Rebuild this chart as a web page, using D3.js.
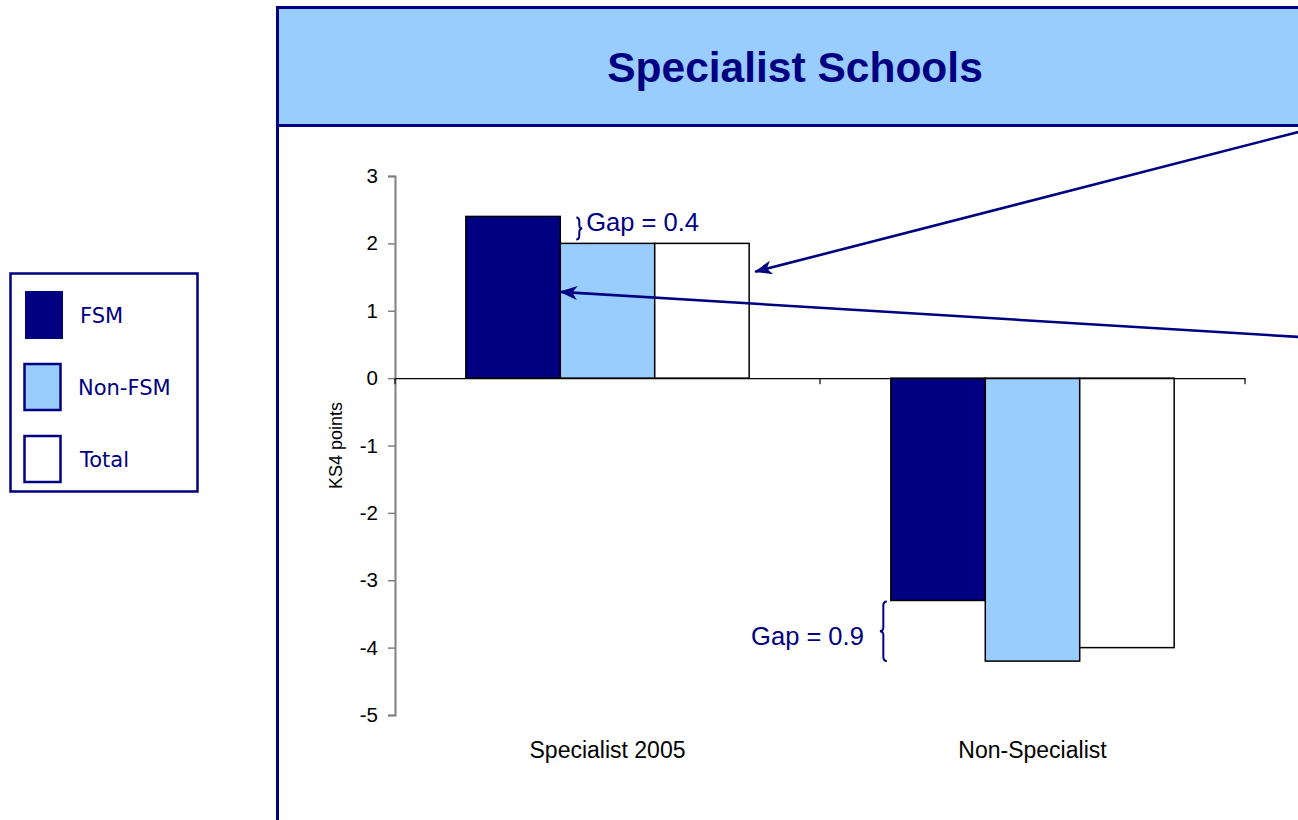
<!DOCTYPE html>
<html>
<head>
<meta charset="utf-8">
<script src="https://cdn.jsdelivr.net/npm/d3@7"></script>
<style>
  html, body { margin: 0; padding: 0; background: #ffffff; }
  svg { display: block; }
</style>
</head>
<body>
<svg id="chart" width="1298" height="820"></svg>
<script>
// ---- data ----
const title = "Specialist Schools";
const categories = ["Specialist 2005", "Non-Specialist"];
const seriesNames = ["FSM", "Non-FSM", "Total"];
const fsmValues = [2.4, -3.3];
const nonFsmValues = [2.0, -4.2];
const totalValues = [2.0, -4.0];
const yTicks = [3, 2, 1, 0, -1, -2, -3, -4, -5];
const yLabel = "KS4 points";
const gapLabels = ["Gap = 0.4", "Gap = 0.9"];
// arrow annotations: start value (at right edge) and target value on a bar
const arrowStartValues = [3.66, 0.61];
const arrowTargetValues = [1.58, 1.28];
const arrowTargetSeries = ["Total", "FSM"];

// ---- styles ----
const NAVY = "#000080";
const LIGHT = "#99CCFF";
const FONT = "Liberation Sans, Arial, sans-serif";
const seriesFill = { "FSM": NAVY, "Non-FSM": LIGHT, "Total": "#ffffff" };

const svg = d3.select("#chart");
const W = 1298, H = 820;

// ---- arrow marker ----
const defs = svg.append("defs");
defs.append("marker")
  .attr("id", "arrow")
  .attr("viewBox", "0 0 18 14")
  .attr("refX", 17).attr("refY", 7)
  .attr("markerWidth", 18).attr("markerHeight", 14)
  .attr("markerUnits", "userSpaceOnUse")
  .attr("orient", "auto")
  .append("path")
  .attr("d", "M0,0 L18,7 L0,14 L5,7 Z")
  .attr("fill", NAVY);

// ---- frame / title box ----
svg.append("rect")
  .attr("x", 277.5).attr("y", 7.5)
  .attr("width", 1040).attr("height", 118)
  .attr("fill", LIGHT)
  .attr("stroke", NAVY).attr("stroke-width", 3);
svg.append("line")
  .attr("x1", 277.5).attr("x2", 277.5)
  .attr("y1", 125).attr("y2", H + 5)
  .attr("stroke", NAVY).attr("stroke-width", 3);
svg.append("text")
  .attr("x", 795).attr("y", 82)
  .attr("text-anchor", "middle")
  .attr("font-family", FONT)
  .attr("font-weight", "bold")
  .attr("font-size", 42.5)
  .attr("fill", NAVY)
  .text(title);

// ---- scales ----
const y = d3.scaleLinear().domain([-5, 3]).range([715, 176]);
const x0 = d3.scaleBand().domain(categories).range([395, 1245]).paddingInner(0).paddingOuter(0);
const x1 = d3.scaleBand().domain(seriesNames).range([0, x0.bandwidth()]).paddingInner(0).paddingOuter(0.75);

const valuesBySeries = { "FSM": fsmValues, "Non-FSM": nonFsmValues, "Total": totalValues };
const rows = [];
categories.forEach((c, i) => {
  seriesNames.forEach(s => rows.push({ cat: c, series: s, value: valuesBySeries[s][i] }));
});

// ---- bars ----
const g = svg.append("g");
g.selectAll("rect.bar").data(rows).enter().append("rect")
  .attr("class", "bar")
  .attr("x", d => x0(d.cat) + x1(d.series))
  .attr("y", d => y(Math.max(0, d.value)))
  .attr("width", x1.bandwidth())
  .attr("height", d => Math.abs(y(d.value) - y(0)))
  .attr("fill", d => seriesFill[d.series])
  .attr("stroke", "#000000")
  .attr("stroke-width", 1.5);

// ---- y axis ----
const yAxis = d3.axisLeft(y).tickValues(yTicks).tickSize(7).tickPadding(10).tickFormat(d => String(d));
const gy = svg.append("g").attr("transform", "translate(395,0)").call(yAxis);
gy.select(".domain").attr("stroke", "#808080").attr("stroke-width", 2);
gy.selectAll(".tick line").attr("stroke", "#808080").attr("stroke-width", 1.5);
gy.selectAll(".tick text")
  .attr("font-family", FONT)
  .attr("font-size", 20.5).attr("fill", "#000");

// ---- x axis at zero ----
const xAxis = d3.axisBottom(x0).tickSize(0).tickFormat("");
const gx = svg.append("g").attr("transform", `translate(0,${y(0)})`).call(xAxis);
gx.select(".domain").attr("stroke", "#000").attr("stroke-width", 1.2);
// category boundary ticks
const boundaries = [x0.range()[0]].concat(categories.map(c => x0(c) + x0.bandwidth()));
svg.append("g").selectAll("line").data(boundaries).enter().append("line")
  .attr("x1", d => d).attr("x2", d => d)
  .attr("y1", y(0)).attr("y2", y(0) + 6)
  .attr("stroke", "#000").attr("stroke-width", 1.2);

// category labels
svg.append("g").selectAll("text").data(categories).enter().append("text")
  .attr("x", d => x0(d) + x0.bandwidth() / 2)
  .attr("y", 758)
  .attr("text-anchor", "middle")
  .attr("font-family", FONT)
  .attr("font-size", 23)
  .attr("fill", "#000")
  .text(d => d);

// y label
svg.append("text")
  .attr("transform", `translate(342,${(y(3) + y(-5)) / 2}) rotate(-90)`)
  .attr("text-anchor", "middle")
  .attr("font-family", FONT)
  .attr("font-size", 18)
  .attr("fill", "#000")
  .text(yLabel);

// ---- gap braces ----
function bracePath(x, y1, y2, w) {
  const m = (y1 + y2) / 2;
  const q = Math.min(4, Math.abs(y2 - y1) / 4);
  const hx = x + w / 2;
  return `M${x},${y1} Q${hx},${y1} ${hx},${y1 + q} L${hx},${m - q} Q${hx},${m} ${x + w},${m}` +
         ` Q${hx},${m} ${hx},${m + q} L${hx},${y2 - q} Q${hx},${y2} ${x},${y2}`;
}
// Gap 0.4 (between FSM and Non-FSM, specialist)
const bx1 = x0(categories[0]) + x1("Non-FSM") + 16;
svg.append("path")
  .attr("d", bracePath(bx1, y(fsmValues[0]) + 1, y(nonFsmValues[0]) - 4, 6))
  .attr("fill", "none").attr("stroke", NAVY).attr("stroke-width", 2);
svg.append("text")
  .attr("x", bx1 + 10).attr("y", y(fsmValues[0]) + 15)
  .attr("font-family", FONT)
  .attr("font-size", 25.5).attr("fill", NAVY)
  .text(gapLabels[0]);
// Gap 0.9 (non-specialist)
const bx2 = x0(categories[1]) + x1("FSM") - 4;
svg.append("path")
  .attr("d", bracePath(bx2, y(fsmValues[1]) + 1, y(nonFsmValues[1]), -7))
  .attr("fill", "none").attr("stroke", NAVY).attr("stroke-width", 2);
svg.append("text")
  .attr("x", bx2 - 23).attr("y", (y(fsmValues[1]) + y(nonFsmValues[1])) / 2 + 14)
  .attr("text-anchor", "end")
  .attr("font-family", FONT)
  .attr("font-size", 25.5).attr("fill", NAVY)
  .text(gapLabels[1]);

// ---- arrows ----
arrowTargetSeries.forEach((s, i) => {
  const tx = x0(categories[0]) + x1(s) + x1.bandwidth() + (s === "Total" ? 6 : 0);
  svg.append("line")
    .attr("x1", W + 2).attr("y1", y(arrowStartValues[i]))
    .attr("x2", tx).attr("y2", y(arrowTargetValues[i]))
    .attr("stroke", NAVY).attr("stroke-width", 2.6)
    .attr("marker-end", "url(#arrow)");
});

// ---- legend ----
const lg = svg.append("g");
lg.append("rect")
  .attr("x", 10.5).attr("y", 273.5).attr("width", 187).attr("height", 218)
  .attr("fill", "#fff").attr("stroke", NAVY).attr("stroke-width", 2.5);
const legendY = d3.scalePoint().domain(seriesNames).range([315, 459]);
lg.selectAll("rect.sw").data(seriesNames).enter().append("rect")
  .attr("class", "sw")
  .attr("x", d => d === "FSM" ? 25 : 24.5)
  .attr("y", d => legendY(d) - (d === "FSM" ? 24 : 23))
  .attr("width", d => d === "FSM" ? 38 : 36)
  .attr("height", d => d === "FSM" ? 48 : 46)
  .attr("fill", d => seriesFill[d])
  .attr("stroke", d => d === "FSM" ? "none" : NAVY)
  .attr("stroke-width", 2.5);
lg.selectAll("text").data(seriesNames).enter().append("text")
  .attr("x", d => d === "Non-FSM" ? 78 : 80)
  .attr("y", d => legendY(d) + 8)
  .attr("font-family", "DejaVu Sans, Verdana, sans-serif")
  .attr("font-size", 21)
  .attr("fill", NAVY)
  .text(d => d);
</script>
</body>
</html>
